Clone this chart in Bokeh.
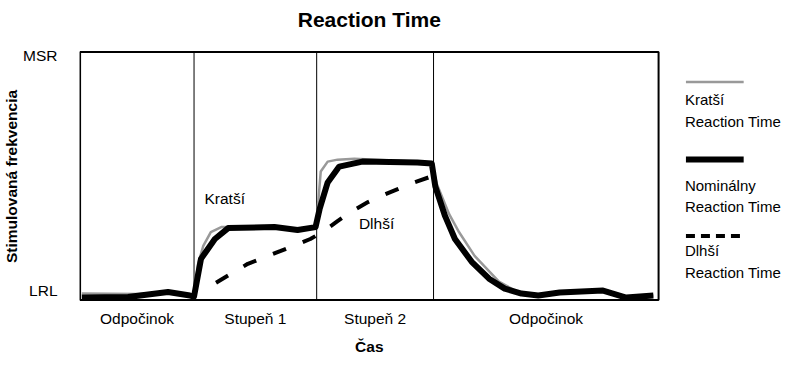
from bokeh.plotting import figure
from bokeh.models import Range1d, FixedTicker, LinearAxis
from bokeh.embed import file_html
from bokeh.resources import INLINE
from bokeh.core.properties import value

FONT = "Liberation Sans"

# ---- data (time in arbitrary units 0..100, rate 0 = LRL .. 100 = MSR) ----
phase_bounds = [19.7, 40.9, 61.1]
phase_labels = ["Odpočinok", "Stupeň 1", "Stupeň 2", "Odpočinok"]
rate_ticks = [3.9, 98.6]
rate_tick_labels = ["LRL", "MSR"]

time_nom = [0.3, 8.3, 15.2, 19.0, 19.7, 20.9, 23.3, 25.6, 33.6, 37.6, 40.7, 41.4,
            42.8, 44.8, 48.8, 58.3, 60.8, 61.4, 63.1, 64.8, 67.7, 70.7, 73.4,
            76.3, 79.2, 82.9, 90.4, 94.4, 99.1]
rate_nom = [1.0, 1.2, 3.2, 1.8, 1.4, 16.6, 24.6, 29.0, 29.4, 28.2, 29.4, 36.6,
            47.4, 53.8, 55.8, 55.4, 55.0, 45.8, 33.8, 24.6, 15.4, 8.6, 4.6,
            2.6, 1.8, 3.0, 3.8, 1.0, 1.8]

time_short = [0.3, 10.1, 15.2, 19.0, 19.7, 20.4, 21.3, 22.6, 24.4, 33.6, 37.6,
              40.7, 41.0, 41.6, 42.8, 44.5, 47.4, 57.7, 60.8, 61.7, 63.8, 65.5,
              68.2, 72.4, 75.5, 79.2, 82.9, 90.4, 94.4, 99.1]
rate_short = [2.6, 2.4, 3.2, 1.8, 1.8, 14.6, 21.8, 27.4, 29.4, 29.4, 28.2,
              29.4, 34.6, 51.8, 55.8, 56.6, 57.0, 55.8, 55.0, 46.6, 34.6, 27.4,
              17.8, 7.4, 3.4, 1.8, 3.0, 3.8, 1.0, 1.8]

time_long = [23.5, 29.0, 34.7, 39.8, 41.9, 44.5, 46.7, 49.7, 51.9, 54.8, 57.7, 61.2]
rate_long = [7.0, 14.6, 19.8, 24.6, 27.4, 31.8, 35.4, 39.4, 41.8, 44.6, 47.4, 50.2]

title_text = "Reaction Time"
x_title = "Čas"
y_title = "Stimulovaná frekvencia"
curve_notes = ["Kratší", "Dlhší"]
legend_titles = ["Kratší", "Nominálny", "Dlhší"]
legend_sub = "Reaction Time"

# chart domain (the boxed region); the frame extends right to hold the legend
X0, X1, Y0, Y1 = 0, 100, 0, 100

p = figure(width=785, height=357,
           x_range=Range1d(-0.1, 121.94), y_range=Range1d(-1.0, 100.6),
           output_backend="svg", toolbar_location=None,
           min_border_left=76, min_border_right=0,
           min_border_top=50, min_border_bottom=53)
p.grid.visible = False
p.outline_line_color = None
p.background_fill_color = "white"
p.border_fill_color = "white"


def style_axis(ax, size="15.5px", bold=False):
    ax.axis_line_color = None
    ax.major_tick_line_color = None
    ax.minor_tick_line_color = None
    ax.major_tick_in = 0
    ax.major_tick_out = 0
    ax.major_label_text_font = FONT
    ax.major_label_text_font_size = size
    ax.major_label_text_color = "black"
    ax.major_label_text_font_style = "bold" if bold else "normal"
    ax.axis_label_text_font = FONT
    ax.axis_label_text_font_size = "15.5px"
    ax.axis_label_text_font_style = "bold"
    ax.axis_label_text_color = "black"


edges = [X0] + phase_bounds + [X1]
mids = [round((edges[i] + edges[i + 1]) / 2, 2) for i in range(len(phase_labels))]
xc = (X0 + X1) / 2

# category labels
xa = p.xaxis[0]
xa.ticker = FixedTicker(ticks=mids)
xa.major_label_overrides = {m: lab for m, lab in zip(mids, phase_labels)}
style_axis(xa)
xa.major_label_standoff = 7

# x title as a second axis below, centred on the boxed chart
xt = LinearAxis(ticker=FixedTicker(ticks=[xc]), major_label_overrides={xc: x_title})
style_axis(xt, bold=True)
xt.major_label_standoff = 8
p.add_layout(xt, "below")

# chart title as an axis above, centred on the boxed chart
tt = LinearAxis(ticker=FixedTicker(ticks=[xc]), major_label_overrides={xc: title_text})
style_axis(tt, size="21px", bold=True)
tt.major_label_standoff = 20
p.add_layout(tt, "above")

ya = p.yaxis[0]
ya.ticker = FixedTicker(ticks=rate_ticks)
ya.major_label_overrides = {t: lab for t, lab in zip(rate_ticks, rate_tick_labels)}
style_axis(ya)
ya.axis_label = y_title
ya.major_label_standoff = 22
ya.axis_label_standoff = 0

# chart box and phase separators
p.quad(left=[X0], right=[X1], bottom=[Y0], top=[Y1], fill_color=None,
       line_color="black", line_width=2)
for b in phase_bounds:
    p.segment(x0=[b], y0=[Y0], x1=[b], y1=[Y1], line_color="black", line_width=1)

p.line(time_short, rate_short, line_color="#999999", line_width=2.5, line_join="round")
p.line(time_nom, rate_nom, line_color="black", line_width=6, line_join="round")
p.line(time_long, rate_long, line_color="black", line_width=4, line_dash="14 18")

p.text(x=[21.5, 48.2], y=[40.9, 30.9], text=curve_notes,
       text_font=value(FONT), text_font_size="15.5px", text_color="black",
       text_baseline="middle", text_align="left")

# ---- legend (right of the chart box) ----
lx0, lx1, lx1d, ltx = 104.73, 114.71, 114.2, 104.55
p.line([lx0, lx1], [87.9, 87.9], line_color="#999999", line_width=2.5)
p.line([lx0, lx1], [56.7, 56.7], line_color="black", line_width=6)
p.line([lx0, lx1d], [25.8, 25.8], line_color="black", line_width=4, line_dash="9 6")

p.text(x=[ltx] * 6, y=[81.0, 72.1, 46.2, 37.6, 19.8, 11.2],
       text=[legend_titles[0], legend_sub, legend_titles[1], legend_sub,
             legend_titles[2], legend_sub],
       text_font=value(FONT), text_font_size="15px", text_color="black",
       text_baseline="middle", text_align="left")

open("out.html", "w").write(file_html(p, INLINE))
